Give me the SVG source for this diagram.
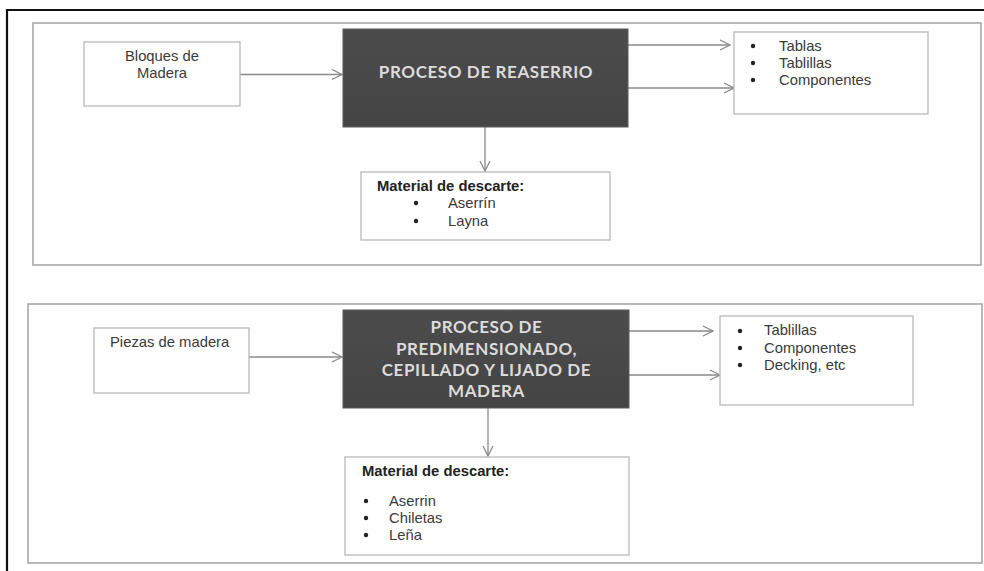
<svg xmlns="http://www.w3.org/2000/svg" width="984" height="571" viewBox="0 0 984 571">
<defs>
<marker id="chev" markerWidth="12" markerHeight="12" refX="11" refY="6" orient="auto" markerUnits="userSpaceOnUse">
<path d="M1,1 L11,6 L1,11" fill="none" stroke="#8a8a8a" stroke-width="1.3"/>
</marker>
<linearGradient id="dark" x1="0" y1="0" x2="0" y2="1">
<stop offset="0" stop-color="#4c4c4c"/>
<stop offset="1" stop-color="#444"/>
</linearGradient>
</defs>
<style>
.panel{fill:#fefefe;stroke:#a8a8a8;stroke-width:1.6}
.box{fill:#fff;stroke:#b8b8b8;stroke-width:1.3}
.proc{fill:url(#dark);stroke:#5a5a5a;stroke-width:1}
.pt{font-family:Lato,"Open Sans",sans-serif;font-size:17px;font-weight:bold;letter-spacing:0.6px;fill:#dcdcdc;text-anchor:middle}
.t{font-family:"Liberation Sans",Arial,sans-serif;font-size:14.8px;fill:#3a3a3a}
.b{font-family:"Liberation Sans",Arial,sans-serif;font-size:14.8px;font-weight:bold;fill:#222}
.dot{fill:#222}
.c{fill:none;stroke:#8a8a8a;stroke-width:1.3;marker-end:url(#chev)}
</style>
<rect width="984" height="571" fill="#fff"/>
<path d="M7,571 V10 H984" fill="none" stroke="#111" stroke-width="2.2"/>
<rect class="panel" x="33" y="23" width="948" height="242"/>
<rect class="panel" x="28" y="304" width="954" height="259"/>

<g id="connectors">
<line class="c" x1="240" y1="74.5" x2="342" y2="74.5"/>
<line class="c" x1="628" y1="45" x2="730" y2="45"/>
<line class="c" x1="628" y1="88" x2="734" y2="88"/>
<line class="c" x1="485" y1="127" x2="485" y2="171"/>
<line class="c" x1="249" y1="357" x2="342" y2="357"/>
<line class="c" x1="629" y1="331" x2="713" y2="331"/>
<line class="c" x1="629" y1="375" x2="720" y2="375"/>
<line class="c" x1="488" y1="408" x2="488" y2="456"/>
</g>

<g id="bloques">
<rect class="box" x="84" y="42" width="156" height="64"/>
<text class="t" x="162" y="61" text-anchor="middle">Bloques de</text>
<text class="t" x="162" y="78" text-anchor="middle">Madera</text>
</g>

<g id="reaserrio">
<rect class="proc" x="343" y="29" width="285" height="98"/>
<text class="pt" x="486" y="78">PROCESO DE REASERRIO</text>
</g>

<g id="productos1">
<rect class="box" x="734" y="32" width="194" height="82"/>
<circle class="dot" cx="753" cy="46" r="2.2"/>
<circle class="dot" cx="753" cy="63" r="2.2"/>
<circle class="dot" cx="753" cy="80" r="2.2"/>
<text class="t" x="779" y="51">Tablas</text>
<text class="t" x="779" y="68">Tablillas</text>
<text class="t" x="779" y="85">Componentes</text>
</g>

<g id="descarte1">
<rect class="box" x="361" y="172" width="249" height="68"/>
<text class="b" x="377" y="191">Material de descarte:</text>
<circle class="dot" cx="416" cy="203" r="2.2"/>
<circle class="dot" cx="416" cy="221" r="2.2"/>
<text class="t" x="448" y="208">Aserrín</text>
<text class="t" x="448" y="226">Layna</text>
</g>

<g id="piezas">
<rect class="box" x="94" y="328" width="155" height="65"/>
<text class="t" x="110" y="347">Piezas de madera</text>
</g>

<g id="predimensionado">
<rect class="proc" x="343" y="310" width="286" height="98"/>
<text class="pt" x="486.5" y="333">PROCESO DE</text>
<text class="pt" x="486.5" y="355">PREDIMENSIONADO,</text>
<text class="pt" x="486.5" y="376">CEPILLADO Y LIJADO DE</text>
<text class="pt" x="486.5" y="397">MADERA</text>
</g>

<g id="productos2">
<rect class="box" x="720" y="316" width="193" height="89"/>
<circle class="dot" cx="740" cy="331" r="2.2"/>
<circle class="dot" cx="740" cy="348" r="2.2"/>
<circle class="dot" cx="740" cy="365" r="2.2"/>
<text class="t" x="764" y="335">Tablillas</text>
<text class="t" x="764" y="353">Componentes</text>
<text class="t" x="764" y="370">Decking, etc</text>
</g>

<g id="descarte2">
<rect class="box" x="345" y="457" width="284" height="98"/>
<text class="b" x="362" y="476">Material de descarte:</text>
<circle class="dot" cx="366" cy="501" r="2.2"/>
<circle class="dot" cx="366" cy="518" r="2.2"/>
<circle class="dot" cx="366" cy="535" r="2.2"/>
<text class="t" x="389" y="506">Aserrin</text>
<text class="t" x="389" y="523">Chiletas</text>
<text class="t" x="389" y="540">Leña</text>
</g>
</svg>
